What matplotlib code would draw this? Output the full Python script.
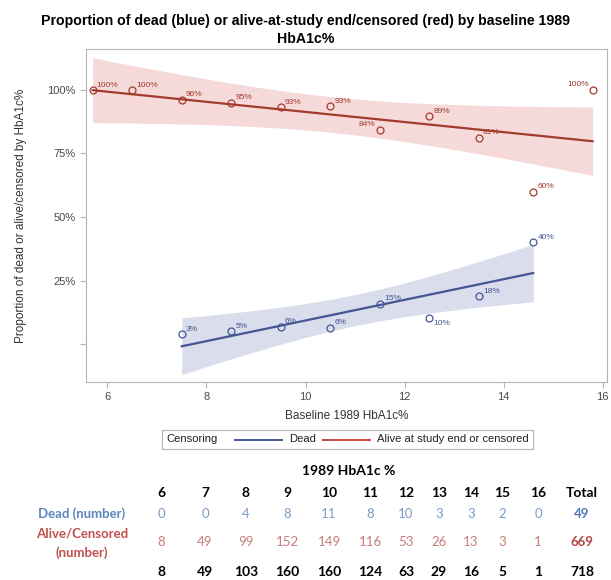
import numpy as np
import matplotlib
matplotlib.use("Agg")
import matplotlib.pyplot as plt
from matplotlib.lines import Line2D
from matplotlib.offsetbox import AnchoredOffsetbox, HPacker, TextArea, DrawingArea

plt.rcParams["font.family"] = ["Liberation Sans", "DejaVu Sans"]

# ---------------------------------------------------------------------------
# data
# ---------------------------------------------------------------------------
hba1c_cat = [6, 7, 8, 9, 10, 11, 12, 13, 14, 15, 16]
# mean baseline HbA1c% in each category (x position of the points)
hba1c_mean = [5.7, 6.5, 7.5, 8.5, 9.5, 10.5, 11.5, 12.5, 13.5, 14.6, 15.8]
dead_n = [0, 0, 4, 8, 11, 8, 10, 3, 3, 2, 0]
alive_n = [8, 49, 99, 152, 149, 116, 53, 26, 13, 3, 1]

# t quantiles (0.975) for the 95% confidence band
t975 = {6: 2.447, 9: 2.262}

blue = "#445694"
red = "#A23A2E"
blue_fill = "#DADDEC"
red_fill = "#F6DADA"

x_all = np.array(hba1c_mean)
dead = np.array(dead_n)
alive = np.array(alive_n)
total = dead + alive
p_dead = dead / total
p_alive = alive / total

# dead points only shown where there is at least one death
keep = dead > 0
xd, yd = x_all[keep], p_dead[keep]
xa, ya = x_all, p_alive


def fit_band(x, y):
    n = len(x)
    slope, icpt = np.polyfit(x, y, 1)
    resid = y - (icpt + slope * x)
    s = np.sqrt(np.sum(resid ** 2) / (n - 2))
    sxx = np.sum((x - x.mean()) ** 2)
    xs = np.linspace(x.min(), x.max(), 60)
    yh = icpt + slope * xs
    half = t975[n - 2] * s * np.sqrt(1.0 / n + (xs - x.mean()) ** 2 / sxx)
    return xs, yh, yh - half, yh + half


# ---------------------------------------------------------------------------
# plot
# ---------------------------------------------------------------------------
W, H = 611, 580
fig = plt.figure(figsize=(W / 100, H / 100), dpi=100)
ax = fig.add_axes([85.7 / W, 1 - 381.7 / H, (607 - 85.7) / W, (381.7 - 49.3) / H])

for x, y, fc, lc in [(xa, ya, red_fill, red), (xd, yd, blue_fill, blue)]:
    xs, yh, lo, hi = fit_band(x, y)
    ax.fill_between(xs, lo, hi, color=fc, lw=0, zorder=1)
    ax.plot(xs, yh, color=lc, lw=1.6, zorder=2)
    ax.plot(x, y, "o", mfc="none", mec=lc, ms=5, mew=0.9, zorder=3)

# point label placement (dx, dy in points, ha)
ur = (3, 3.5, "left")
alive_pos = [ur, ur, ur, ur, ur, ur, (-3, 4, "right"), ur, ur, ur, (-3, 4, "right")]
dead_pos = [ur, ur, ur, ur, ur, (3, -4, "left"), ur, ur]

for x, y, pos, c in [(xa, ya, alive_pos, red), (xd, yd, dead_pos, blue)]:
    for xi, yi, (dx, dy, ha) in zip(x, y, pos):
        ax.annotate("%d%%" % int(yi * 100 + 1e-9), (xi, yi), xytext=(dx, dy),
                    textcoords="offset points", ha=ha, va="center",
                    fontsize=6, color=c)

ax.set_xlim(5.56, 16.09)
ax.set_ylim(-0.148, 1.16)
ax.set_xticks([6, 8, 10, 12, 14, 16])
ax.set_yticks([0, 0.25, 0.5, 0.75, 1.0])
ax.set_yticklabels(["", "25%", "50%", "75%", "100%"])
for sp in ax.spines.values():
    sp.set_color("#B4B4B4")
ax.tick_params(colors="#B4B4B4", labelcolor="#4A4A4A", labelsize=8, length=4)

ax.set_xlabel("Baseline 1989 HbA1c%", fontsize=8.5, color="#333333", labelpad=6)
ax.set_ylabel("Proportion of dead or alive/censored by HbA1c%", fontsize=8.5,
              color="#333333", labelpad=14)
fig.text(0.5, 1 - 21.5 / H, "Proportion of dead (blue) or alive-at-study end/censored (red) by baseline 1989",
         ha="center", va="center", fontsize=10.2, fontweight="bold")
fig.text(0.5, 1 - 39 / H, "HbA1c%", ha="center", va="center", fontsize=10.2,
         fontweight="bold")

# legend
def seg(color, length=34):
    da = DrawingArea(length, 8)
    if color:
        da.add_artist(Line2D([0, length], [4, 4], color=color, lw=1.4))
    return da

tp = dict(fontsize=8.1, color="#222222")
box = HPacker(children=[TextArea("Censoring", textprops=tp), seg(None, 2), seg(blue),
                        TextArea("Dead", textprops=tp), seg("#C8463A"),
                        TextArea("Alive at study end or censored", textprops=tp)],
              align="center", pad=0, sep=5)
anc = AnchoredOffsetbox(loc="center", child=box, pad=0.3, frameon=True,
                        bbox_to_anchor=(347.5 / W, 1 - 439.5 / H),
                        bbox_transform=fig.transFigure, borderpad=0)
anc.patch.set_edgecolor("#B4B4B4")
anc.patch.set_linewidth(0.8)
fig.add_artist(anc)

# ---------------------------------------------------------------------------
# count table
# ---------------------------------------------------------------------------
tfont = ["Lato", "DejaVu Sans"]
col_x = [161, 205, 246, 287, 329, 370, 406, 439, 471, 502, 538]
tot_x = 582
row_y = {"head": 493, "dead": 514, "alive": 542, "tot": 572}
lab_blue = "#5D86BE"
lab_red = "#C0504D"
val_blue = "#7D9CC6"
val_red = "#C67C7A"


def ftext(x, y, s, **kw):
    fig.text(x / W, 1 - y / H, s, ha="center", va="center", family=tfont, **kw)


ftext(349, 471, "1989 HbA1c %", fontsize=10, fontweight="bold")
for i, c in enumerate(hba1c_cat):
    ftext(col_x[i], row_y["head"], str(c), fontsize=10, fontweight="bold")
    ftext(col_x[i], row_y["dead"], str(dead[i]), fontsize=9.5, color=val_blue)
    ftext(col_x[i], row_y["alive"], str(alive[i]), fontsize=9.5, color=val_red)
    ftext(col_x[i], row_y["tot"], str(total[i]), fontsize=10, fontweight="bold")
ftext(tot_x, row_y["head"], "Total", fontsize=10, fontweight="bold")
ftext(tot_x, row_y["dead"], str(dead.sum()), fontsize=9.5, fontweight="bold", color="#4F7BB8")
ftext(tot_x, row_y["alive"], str(alive.sum()), fontsize=9.5, fontweight="bold", color="#B24A47")
ftext(tot_x, row_y["tot"], str(total.sum()), fontsize=10, fontweight="bold")

ftext(82, row_y["dead"], "Dead (number)", fontsize=9.5, fontweight="bold", color=lab_blue)
ftext(82, 533, "Alive/Censored", fontsize=9.5, fontweight="bold", color=lab_red)
ftext(82, 553, "(number)", fontsize=9.5, fontweight="bold", color=lab_red)

fig.savefig("out.png", dpi=100)
